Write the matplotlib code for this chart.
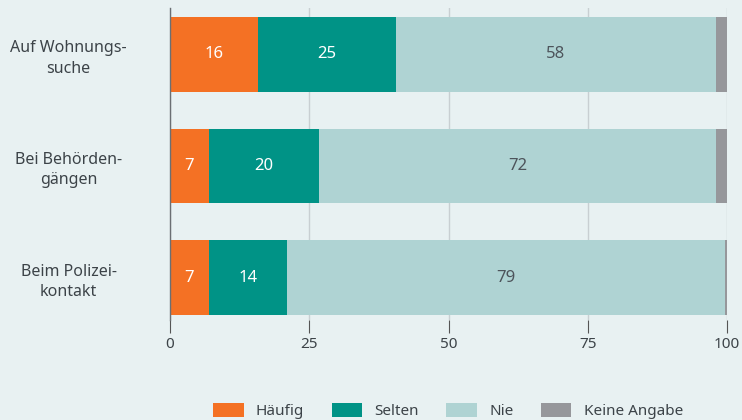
import numpy as np
import matplotlib.pyplot as plt

# Data (Prozent, Angaben gerundet)
categories = ['Auf Wohnungs-\nsuche', 'Bei Behörden-\ngängen', 'Beim Polizei-\nkontakt']
series = ['Häufig', 'Selten', 'Nie', 'Keine Angabe']
haeufig = [16, 7, 7]
selten = [25, 20, 14]
nie = [58, 72, 79]
keine = [2, 2, 0.4]
xticks = [0, 25, 50, 75, 100]

colors = ['#f47124', '#009386', '#afd3d3', '#96979b']
label_colors = ['white', 'white', '#4d545b', None]
bg = '#e8f1f2'
textc = '#3c4348'

plt.rcParams['font.family'] = ['Noto Sans', 'DejaVu Sans']

fig = plt.figure(figsize=(7.42, 4.2), dpi=100, facecolor=bg)
ax = fig.add_axes([170/742, 1-320/420, 557/742, 312/420], facecolor=bg)

data = np.array([haeufig, selten, nie, keine], dtype=float)
# Balken auf 100 % normiert (Rundungsdifferenzen)
data = data / data.sum(axis=0) * 100
y = np.arange(len(categories))

left = np.zeros(len(categories))
for i, name in enumerate(series):
    ax.barh(y, data[i], left=left, height=0.665, color=colors[i], label=name, zorder=3)
    if label_colors[i] is not None:
        vals = [haeufig, selten, nie][i]
        for j in range(len(categories)):
            ax.text(left[j] + data[i][j]/2, y[j], str(vals[j]), ha='center', va='center',
                    color=label_colors[i], fontsize=12, fontweight='light', zorder=4)
    left += data[i]

ax.set_xlim(0, 100)
ax.set_ylim(2.381, -0.417)
ax.set_xticks(xticks)
ax.set_xticklabels([str(t) for t in xticks], fontsize=11, color=textc)
ax.tick_params(axis='x', length=9, width=0.8, color='#555555', pad=3)
ax.set_yticks(y)
ax.set_yticklabels(categories, fontsize=11.5, color=textc, ha='center',
                   multialignment='center', linespacing=1.35)
ax.tick_params(axis='y', length=0, pad=73)
ax.xaxis.grid(True, color='#c8cfd2', linewidth=1, zorder=0)
for s in ['top', 'right', 'bottom']:
    ax.spines[s].set_visible(False)
ax.spines['left'].set_color('#6b6f73')
ax.spines['left'].set_linewidth(1)
ax.spines['left'].set_zorder(5)

fig.legend(loc='center', bbox_to_anchor=(448/742, 1-411/420), ncol=4, frameon=False,
           fontsize=11, labelcolor=textc, handlelength=2.0, handleheight=1.05,
           handletextpad=0.8, columnspacing=1.8)

fig.savefig('out.png', dpi=100, facecolor=bg)
